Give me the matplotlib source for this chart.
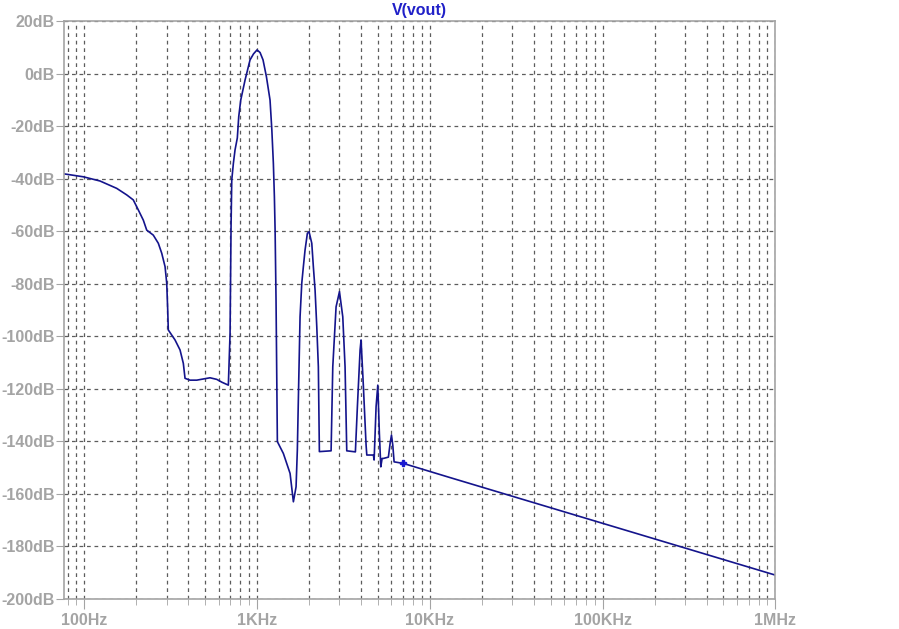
import matplotlib
matplotlib.use("Agg")
import matplotlib.pyplot as plt
from matplotlib.ticker import FixedLocator, NullFormatter, LogLocator

# spectrum of V(vout)
freq = [76.6, 98.7, 123.3, 154.0, 176.1, 192.1, 205.4, 219.6, 229.8, 250.8,
        268.2, 280.7, 293.4, 300.0, 304.0, 306.4, 335.1, 358.2, 374.3, 382.9,
        409.0, 447.6, 534.3, 584.3, 626.4, 682.1, 697.9, 707.1, 713.9, 729.3,
        745.6, 768.8, 783.4, 804.6, 852.1, 910.9, 954.4, 1000, 1041, 1083,
        1133, 1189, 1218, 1243, 1260, 1272, 1288, 1311, 1420, 1553,
        1623, 1682, 1711, 1734, 1758, 1774, 1815, 1854, 1896, 1956,
        2000, 2074, 2118, 2167, 2217, 2264, 2295, 2683, 2744, 2867,
        3000, 3135, 3232, 3306, 3709, 3809, 3949, 4000, 4127, 4277,
        4318, 4715, 4760, 4824, 4887, 5000, 5106, 5204, 5295, 5388,
        5758, 5891, 6000, 6107, 6214, 7034, 13120, 1.0e6]
vout_db = [-38.2, -39.3, -40.9, -43.7, -46.2, -48.1, -51.9, -55.8, -59.6, -61.5,
           -64.6, -68.4, -73.5, -79.8, -90.0, -97.6, -101.4, -105.2, -110.3, -116.0,
           -116.7, -116.7, -115.8, -116.4, -117.5, -118.6, -98.9, -58.3, -40.5, -34.2,
           -29.1, -24.5, -16.4, -10.1, -2.5, 5.2, 7.5, 9.0, 8.0, 5.2,
           -1.2, -10.1, -21.5, -34.2, -46.9, -59.6, -86.2, -140.1, -144.6, -152.2,
           -163.0, -157.3, -143.3, -124.3, -105.2, -92.6, -79.8, -73.5, -67.2, -60.8,
           -60.2, -64.6, -73.5, -82.4, -96.4, -111.6, -143.9, -143.6, -111.6, -88.8,
           -83.0, -92.6, -111.6, -143.6, -144.0, -126.8, -105.2, -101.4, -119.2, -141.4,
           -145.2, -145.2, -147.1, -137.0, -126.8, -118.6, -137.0, -149.7, -146.5, -146.5,
           -146.0, -140.8, -137.6, -141.5, -147.8, -148.4, -153.8, -190.9]

marker_freq = [7034]
marker_db = [-148.4]

xtick_vals = [100, 1e3, 1e4, 1e5, 1e6]
xtick_labels = ["100Hz", "1KHz", "10KHz", "100KHz", "1MHz"]
ytick_vals = list(range(20, -201, -20))
ytick_labels = [f"{v}dB" for v in ytick_vals]

gray = "#a4a4a4"
grid_col = "#5c5c5c"
line_col = "#14148c"

plt.rcParams["font.family"] = ["Liberation Sans", "DejaVu Sans"]

fig = plt.figure(figsize=(8.99, 6.29), dpi=100)
ax = fig.add_axes([64.3 / 899, 1 - 599 / 629, (775.3 - 64.3) / 899, (599 - 21) / 629])

ax.plot(freq, vout_db, color=line_col, lw=1.2)
ax.plot(marker_freq, marker_db, marker="P", ms=5, color="#1a1ad0", lw=0)

ax.set_xscale("log")
ax.set_xlim(76.6, 1e6)
ax.set_ylim(-200, 20)

ax.xaxis.set_major_locator(FixedLocator(xtick_vals))
ax.set_xticklabels(xtick_labels)
ax.xaxis.set_minor_locator(LogLocator(base=10, subs=range(2, 10)))
ax.xaxis.set_minor_formatter(NullFormatter())
ax.set_yticks(ytick_vals)
ax.set_yticklabels(ytick_labels)

for lab in ax.get_xticklabels() + ax.get_yticklabels():
    lab.set_fontweight("bold")
    lab.set_fontsize(11.5)
    lab.set_color(gray)

ax.tick_params(axis="x", which="major", direction="out", length=7, color=gray, pad=3)
ax.tick_params(axis="x", which="minor", direction="out", length=4, color=gray)
ax.tick_params(axis="y", which="major", direction="out", length=6, color=gray, pad=1)

ax.grid(True, which="both", axis="x", color=grid_col, ls=(0, (3, 3)), lw=0.9)
ax.grid(True, which="major", axis="y", color=grid_col, ls=(0, (3, 3)), lw=0.9)

for sp in ax.spines.values():
    sp.set_color(gray)
    sp.set_linewidth(1.2)

ax.set_title("V(vout)", color="#2020c8", fontweight="bold", fontsize=11.5, pad=4)

fig.savefig("out.png", dpi=100)
